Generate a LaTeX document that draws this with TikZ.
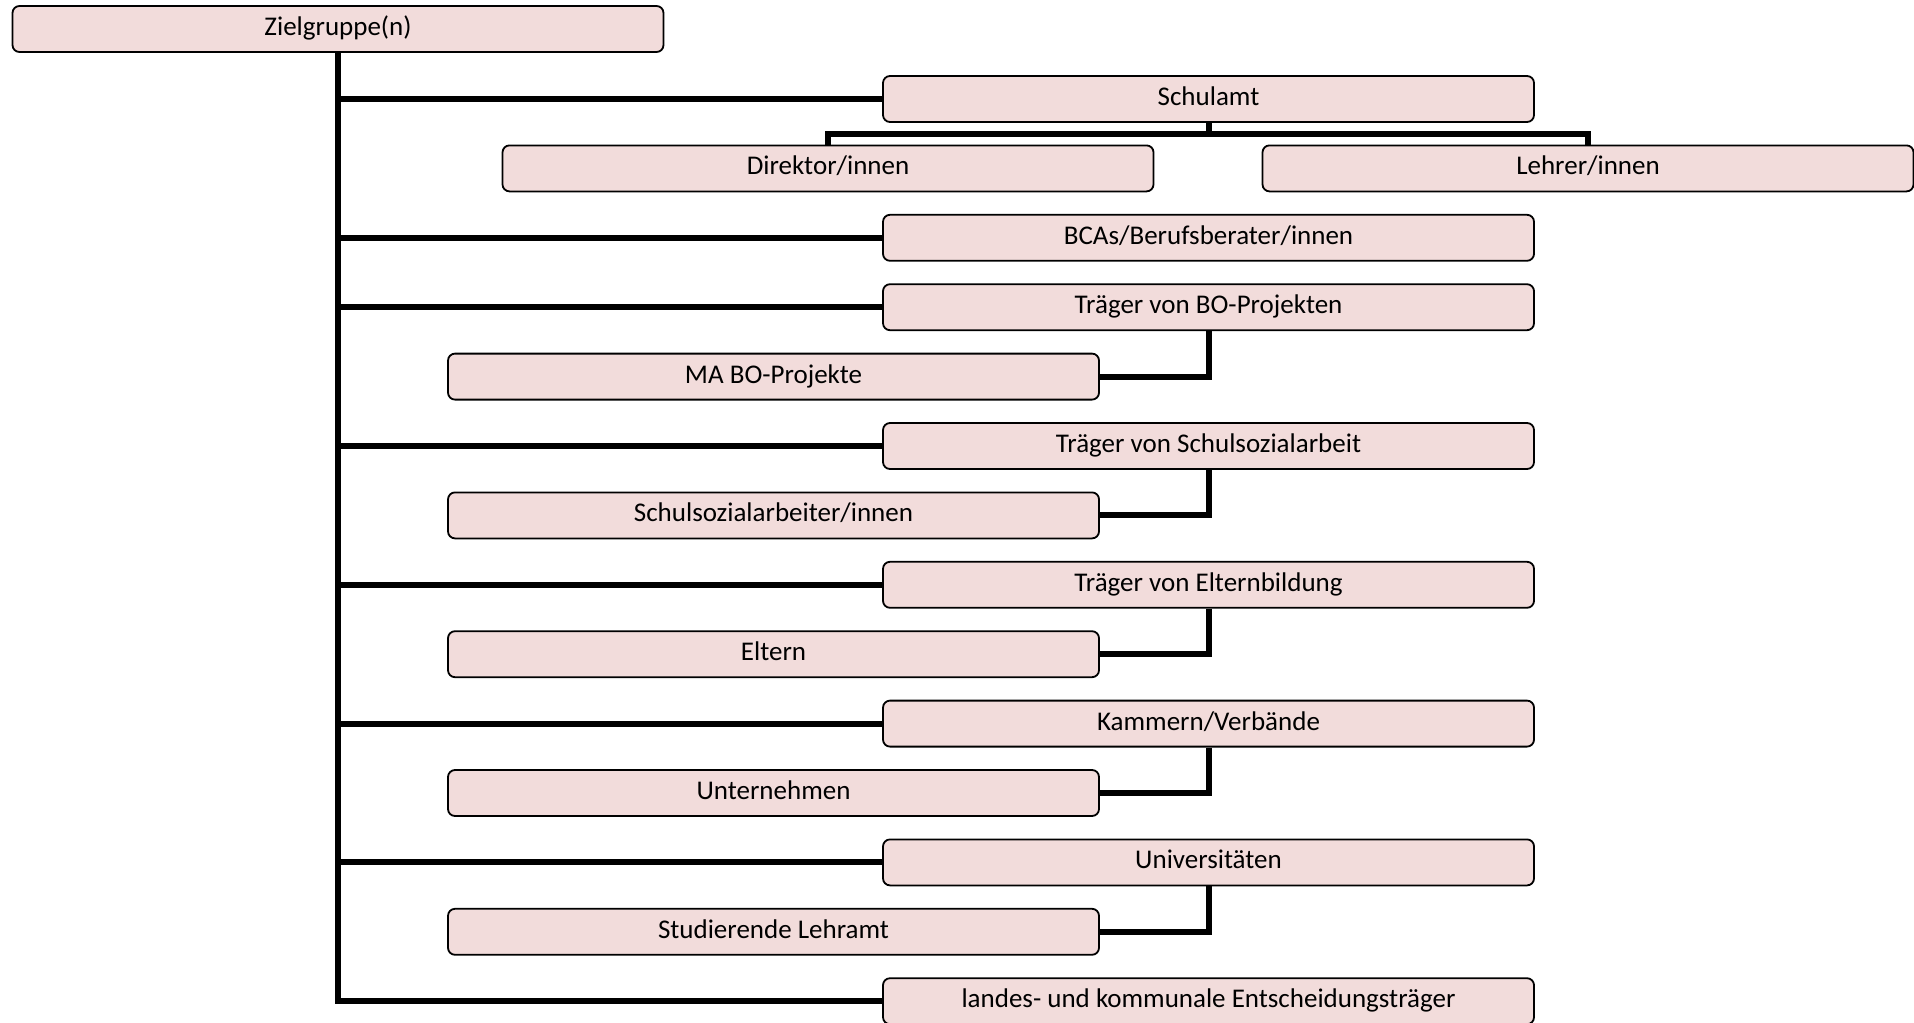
\documentclass[tikz,border=0pt]{standalone}
\usepackage{fontspec}
\setmainfont{Carlito}
\definecolor{boxfill}{HTML}{F2DCDB}
\begin{document}
\begin{tikzpicture}[x=0.5pt,y=-0.5pt,
  box/.style={draw=black, line width=0.9pt, fill=boxfill, rounded corners=3.5pt,
    minimum width=325.5pt, minimum height=23pt, inner sep=0pt,
    text height=9.5pt, text depth=3pt, font=\fontsize{13.5}{15}\selectfont},
  conn/.style={line width=3pt, line cap=butt}]
\useasboundingbox (0,0) rectangle (1914,1022);
\def\ry#1{99+69.4*#1}
\node[box] (ziel) at (338,29) {Zielgruppe(n)};
\node[box] (schulamt) at (1208.5,{\ry{0}}) {Schulamt};
\node[box] (dir) at (828,{\ry{1}}) {Direktor/innen};
\node[box] (lehr) at (1588,{\ry{1}}) {Lehrer/innen};
\node[box] (bca) at (1208.5,{\ry{2}}) {BCAs/Berufsberater/innen};
\node[box] (tbo) at (1208.5,{\ry{3}}) {Träger von BO-Projekten};
\node[box] (mabo) at (773.5,{\ry{4}}) {MA BO-Projekte};
\node[box] (tssa) at (1208.5,{\ry{5}}) {Träger von Schulsozialarbeit};
\node[box] (ssa) at (773.5,{\ry{6}}) {Schulsozialarbeiter/innen};
\node[box] (telt) at (1208.5,{\ry{7}}) {Träger von Elternbildung};
\node[box] (elt) at (773.5,{\ry{8}}) {Eltern};
\node[box] (kam) at (1208.5,{\ry{9}}) {Kammern/Verbände};
\node[box] (unt) at (773.5,{\ry{10}}) {Unternehmen};
\node[box] (uni) at (1208.5,{\ry{11}}) {Universitäten};
\node[box] (stud) at (773.5,{\ry{12}}) {Studierende Lehramt};
\node[box] (land) at (1208.5,{\ry{13}}) {landes- und kommunale Entscheidungsträger};
% trunk
\draw[conn] (ziel.south) -- (ziel.south |- land.west) -- (land.west);
\foreach \n in {schulamt,bca,tbo,tssa,telt,kam,uni}
  \draw[conn] (ziel.south |- \n.west) -- (\n.west);
% Schulamt branch
\coordinate (bar) at (1208.5,134);
\draw[conn] (schulamt.south) -- (bar);
\draw[conn] (dir.north) -- (dir.north |- bar) -- (lehr.north |- bar) -- (lehr.north);
% children
\draw[conn] (tbo.south) |- (mabo.east);
\draw[conn] (tssa.south) |- (ssa.east);
\draw[conn] (telt.south) |- (elt.east);
\draw[conn] (kam.south) |- (unt.east);
\draw[conn] (uni.south) |- (stud.east);
\end{tikzpicture}
\end{document}
